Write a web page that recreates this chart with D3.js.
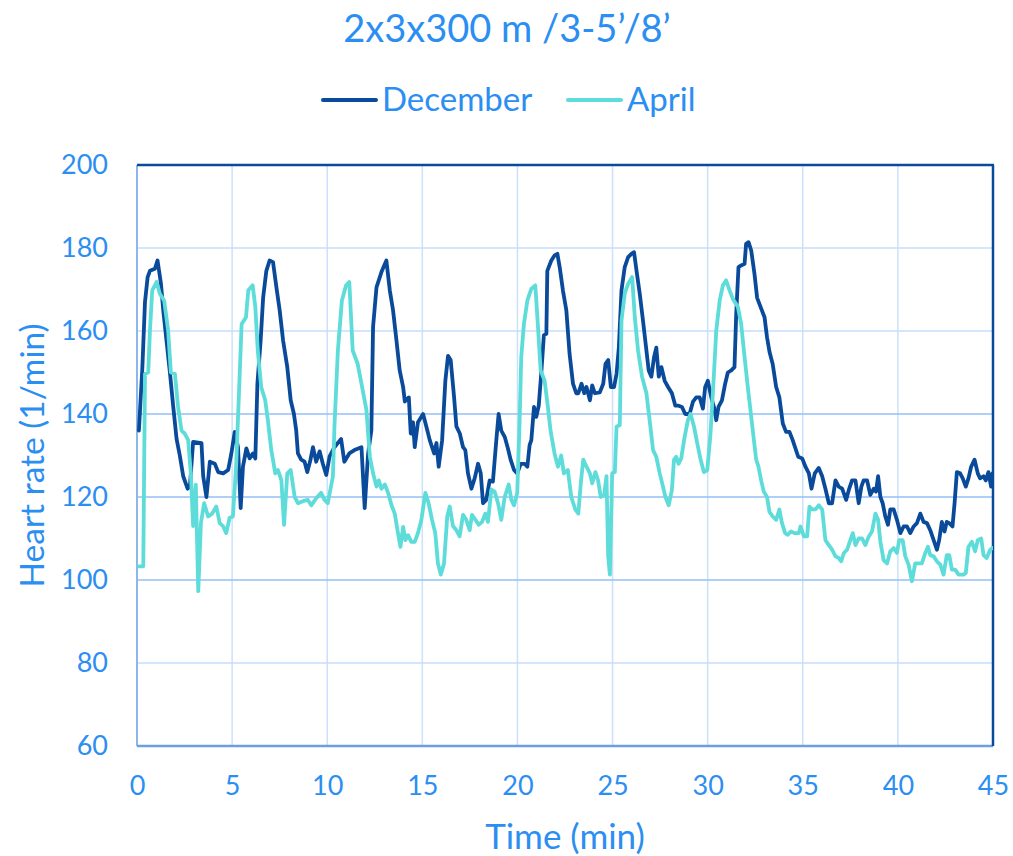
<!DOCTYPE html>
<html>
<head>
<meta charset="utf-8">
<script src="https://cdn.jsdelivr.net/npm/d3@7"></script>
<style>
  body { margin: 0; background: #fff; }
  text { font-family: Lato, "Open Sans", sans-serif; fill: #2b8ef2; }
</style>
</head>
<body>
<script>
// heart rate during 2x3x300 m as [minute, bpm]
const december = [
  [0.1,136],[0.28,151],[0.42,167],[0.56,173],[0.68,174.5],[0.94,175],[1.08,177],[1.26,171.4],[1.38,165],[1.55,157.7],
  [1.73,150],[1.9,142],[2.08,134],[2.25,130],[2.43,125],[2.66,122],[2.78,122.5],[2.95,133.3],[3.39,133],[3.48,125],
  [3.65,120],[3.83,128.5],[4.09,128],[4.27,126],[4.53,125.7],[4.79,126.5],[4.96,130.5],[5.14,135.7],[5.31,132],[5.45,117.3],
  [5.57,127.3],[5.75,131.7],[5.92,129.3],[6.1,130.5],[6.22,129.3],[6.33,147.3],[6.5,157.7],[6.63,168],[6.8,174.5],[6.97,177],
  [7.15,176.6],[7.33,170.5],[7.5,165],[7.68,157.7],[7.9,151.3],[8.08,143.3],[8.25,140],[8.37,136],[8.46,130.5],[8.63,129],
  [8.81,128.5],[8.95,126],[9.12,129],[9.25,132],[9.42,128.5],[9.6,131],[9.77,128],[9.95,125.3],[10.12,129.7],[10.38,132],
  [10.73,134],[10.9,128.5],[11.16,130.5],[11.43,131.3],[11.8,132],[11.97,117.3],[12.15,130.5],[12.32,136],[12.41,161],[12.59,170.5],
  [12.85,174.2],[13.11,177],[13.29,169.8],[13.46,165],[13.64,157.7],[13.81,150.5],[13.99,146.5],[14.08,143],[14.29,144],[14.39,135.3],
  [14.51,138],[14.6,132],[14.77,138],[15.04,140],[15.21,137],[15.39,133.7],[15.62,130.5],[15.74,133],[15.86,127.3],[16.04,133.7],
  [16.21,148],[16.35,154],[16.49,153],[16.67,144],[16.79,137],[16.97,135.3],[17.14,132],[17.26,131.3],[17.4,125.7],[17.58,122],
  [17.75,124.5],[17.93,128],[18.07,125.7],[18.19,118.5],[18.36,119.3],[18.54,124],[18.71,123.7],[18.89,133.7],[19.01,140],[19.15,136],
  [19.33,134.5],[19.5,131.7],[19.64,129],[19.82,126.5],[19.99,125.7],[20.17,128],[20.38,128],[20.52,127.3],[20.64,132.5],[20.73,133.7],
  [20.87,141.7],[20.99,139.3],[21.12,142],[21.25,149.7],[21.39,159],[21.52,159.3],[21.57,174.5],[21.78,177],[21.95,178.2],[22.1,178.6],
  [22.22,175.4],[22.39,169.8],[22.57,165],[22.74,154.5],[22.92,147.3],[23.09,145],[23.2,145],[23.37,147.3],[23.51,145],[23.63,146.5],
  [23.81,143.3],[23.93,146.9],[24.07,145],[24.33,145.2],[24.51,147.3],[24.63,152.1],[24.77,153],[24.91,146.5],[25.08,146.5],[25.21,149.7],
  [25.33,156],[25.47,169.8],[25.64,175.4],[25.82,177.8],[25.99,178.6],[26.13,179],[26.26,174.5],[26.43,169],[26.6,162.5],[26.78,155.3],
  [26.9,150.5],[27.04,149],[27.18,153.7],[27.3,156],[27.43,149],[27.57,151.3],[27.74,148],[27.92,146.5],[28.12,145],[28.3,142],
  [28.47,142],[28.65,141.7],[28.82,140],[29.05,140],[29.23,143],[29.4,144],[29.58,144],[29.75,141.3],[29.87,146.5],[30.01,148],
  [30.19,144],[30.33,141.7],[30.45,138.5],[30.57,141.7],[30.75,143.3],[30.92,147.3],[31.06,150],[31.24,150.5],[31.41,151.3],[31.5,164],
  [31.62,175.4],[31.76,175.8],[31.94,176.2],[32.02,181],[32.15,181.4],[32.29,179.4],[32.46,173.8],[32.6,168],[32.78,165.8],[32.99,163.3],
  [33.12,158.5],[33.25,155],[33.42,152],[33.6,146.5],[33.77,144],[33.95,137.7],[34.12,135.7],[34.3,135.7],[34.47,133.7],[34.76,129.7],
  [34.97,129.3],[35.14,127.3],[35.32,125.7],[35.46,122],[35.63,125.7],[35.84,127],[36.02,125],[36.19,122],[36.37,118.5],[36.54,118.5],
  [36.72,124],[36.89,122.5],[37.07,122],[37.28,119.3],[37.42,121.7],[37.59,124],[37.77,124],[37.94,118.5],[38.08,122.5],[38.2,124],
  [38.38,124],[38.55,120.5],[38.73,122],[38.85,121.3],[38.96,125],[39.08,120],[39.2,118.5],[39.34,115.3],[39.48,113.3],[39.6,117],
  [39.78,117],[39.95,114.5],[40.13,111.3],[40.3,112.9],[40.48,112.9],[40.65,111.3],[40.83,112.9],[41.0,113.7],[41.18,116],[41.35,114],
  [41.53,113.7],[41.7,112],[41.88,109.6],[42.05,107.3],[42.17,109.6],[42.31,114],[42.45,111.7],[42.57,114],[42.7,113.7],[42.87,112.9],
  [42.98,118.5],[43.1,126],[43.27,125.7],[43.41,124.5],[43.57,122.5],[43.71,124.5],[43.85,127.3],[44.03,129],[44.2,125.7],[44.32,124.5],
  [44.5,125],[44.62,124],[44.76,126],[44.9,122.5],[44.97,125.7]
];

const april = [
  [0.1,103.3],[0.33,103.3],[0.42,149.7],[0.59,150],[0.68,160],[0.8,169.8],[1.03,171.8],[1.2,169],[1.43,167.3],[1.64,160],
  [1.78,150],[1.99,149.7],[2.16,141.7],[2.34,136],[2.51,135.3],[2.69,133.7],[2.83,125.7],[2.95,113],[3.09,123],[3.22,97.3],
  [3.36,113.7],[3.53,118.5],[3.74,115.3],[3.95,116],[4.17,117.7],[4.35,113.7],[4.52,113],[4.69,111.3],[4.87,115],[5.04,115.3],
  [5.21,127.3],[5.38,147.3],[5.5,161.7],[5.73,163.3],[5.85,169.8],[6.08,171],[6.22,165.8],[6.35,155.3],[6.53,146.5],[6.74,143.3],
  [6.88,138.5],[7.06,131.3],[7.27,125.7],[7.41,126.5],[7.59,124],[7.73,113.3],[7.9,125.7],[8.08,126.5],[8.29,120],[8.46,118.5],
  [8.72,119],[8.98,119.3],[9.16,118],[9.42,119.7],[9.68,121],[9.86,119.3],[10.03,118.5],[10.3,125],[10.38,137],[10.56,155.3],
  [10.77,167.3],[10.99,171],[11.16,171.8],[11.34,155.3],[11.6,152.1],[11.8,147.3],[12.06,141],[12.24,129.7],[12.41,125.7],[12.59,122.5],
  [12.71,124],[12.85,122],[13.03,123],[13.2,121],[13.38,118],[13.55,116],[13.72,111.3],[13.85,108],[13.99,112.8],[14.11,109.6],
  [14.25,110.8],[14.42,109.2],[14.6,109.2],[14.77,111.3],[14.95,114.5],[15.16,121],[15.33,118.5],[15.51,114.5],[15.68,111.3],[15.82,104],
  [15.97,101.3],[16.14,104],[16.31,115.3],[16.44,117.7],[16.61,113],[16.79,112],[16.96,110.5],[17.14,115.7],[17.31,114.5],[17.49,112],
  [17.61,115.7],[17.79,114.5],[17.96,113.3],[18.14,114],[18.31,116],[18.45,114],[18.63,121.8],[18.8,121.3],[18.98,118.5],[19.15,114.5],
  [19.33,120],[19.54,123],[19.68,119.3],[19.82,118],[19.99,121],[20.11,137.7],[20.2,153.7],[20.34,161.7],[20.52,167.3],[20.73,170.2],
  [20.94,171],[21.08,161],[21.22,150.5],[21.43,148],[21.6,141.7],[21.74,136],[21.95,130.5],[22.13,127.3],[22.3,130],[22.44,125.7],
  [22.65,126.5],[22.83,120],[23.04,117],[23.2,116],[23.33,123.3],[23.46,129],[23.63,127.3],[23.81,125.7],[23.93,123.3],[24.1,126],
  [24.24,124],[24.38,120],[24.56,120.5],[24.68,125],[24.77,105.7],[24.86,101.3],[24.98,125.7],[25.12,126],[25.21,137],[25.38,137.3],
  [25.47,162.5],[25.64,169],[25.82,171.4],[26.03,173],[26.17,163.3],[26.34,155.3],[26.55,149],[26.78,145],[26.95,138.5],[27.13,131.3],
  [27.3,129.7],[27.48,125.7],[27.65,122.5],[27.78,120],[27.95,118],[28.12,121.7],[28.23,129],[28.35,129.7],[28.47,128],[28.61,129.3],
  [28.79,134.5],[28.96,138.5],[29.1,140],[29.28,137],[29.45,133],[29.63,129],[29.8,126],[29.98,126.5],[30.15,135.3],[30.33,149.7],
  [30.45,160],[30.63,167.3],[30.8,171],[30.97,172.2],[31.15,169.8],[31.32,167.8],[31.59,165.8],[31.76,161.7],[31.94,153.7],[32.11,146.5],
  [32.29,139.3],[32.43,133.7],[32.55,129],[32.67,127.3],[32.81,124],[32.95,121.3],[33.12,120],[33.25,116.4],[33.42,115.3],[33.6,114.5],
  [33.77,117],[33.89,114],[34.07,111.3],[34.21,110.9],[34.38,111.7],[34.56,111.3],[34.79,111.3],[34.88,112.9],[35.06,110.5],[35.23,110.5],
  [35.35,117.7],[35.49,117],[35.67,117],[35.84,118],[36.02,117],[36.19,109.6],[36.37,108.4],[36.54,107.3],[36.72,105.7],[36.89,105.3],
  [37.02,104.5],[37.16,106.5],[37.33,107.3],[37.5,109.6],[37.63,111.3],[37.77,108.4],[37.94,110],[38.12,110],[38.29,108.4],[38.47,110.5],
  [38.64,111.7],[38.82,116],[38.96,114.5],[39.08,109.2],[39.25,104.8],[39.43,104],[39.6,106.9],[39.78,107.7],[39.95,106.5],[40.07,109.6],
  [40.25,109.6],[40.39,105.7],[40.56,103.7],[40.74,99.7],[40.91,104],[41.09,104],[41.26,104],[41.44,106.5],[41.58,108],[41.7,106],
  [41.88,105.7],[42.05,104.5],[42.23,103.7],[42.4,101.3],[42.57,106],[42.7,106],[42.84,102.5],[43.01,102.5],[43.19,101.3],[43.45,101.3],
  [43.57,101.7],[43.71,108],[43.89,109.2],[44.06,106.9],[44.2,109.6],[44.38,110],[44.5,106],[44.67,105.3],[44.85,107.3],[44.97,107.7]
];

const xTicks = [0, 5, 10, 15, 20, 25, 30, 35, 40, 45];
const yTicks = [60, 80, 100, 120, 140, 160, 180, 200];
const seriesNames = ["December", "April"];
const seriesColors = ["#0a4a9b", "#5edcd9"];

const W = 1013, H = 856;
const margin = {top: 165, right: 20, bottom: 110, left: 137};
const iw = W - margin.left - margin.right;
const ih = H - margin.top - margin.bottom;

const svg = d3.select("body").append("svg").attr("width", W).attr("height", H);

const x = d3.scaleLinear().domain([0, 45]).range([0, iw]);
const y = d3.scaleLinear().domain([60, 200]).range([ih, 0]);

const g = svg.append("g").attr("transform", `translate(${margin.left},${margin.top})`);

// grid
g.selectAll(".vgrid").data(xTicks.slice(1, -1)).join("line")
  .attr("x1", d => x(d)).attr("x2", d => x(d)).attr("y1", 0).attr("y2", ih)
  .attr("stroke", "#cbe1fb").attr("stroke-width", 1.5);
g.selectAll(".hgrid").data(yTicks.slice(1, -1)).join("line")
  .attr("x1", 0).attr("x2", iw).attr("y1", d => y(d)).attr("y2", d => y(d))
  .attr("stroke", d => (d >= 100 && d <= 140) ? "#93c1f6" : "#c6defa").attr("stroke-width", 1.5);

// axes (labels only)
const xAxis = g.append("g").attr("transform", `translate(0,${ih})`)
  .call(d3.axisBottom(x).tickValues(xTicks).tickSize(0).tickPadding(30));
const yAxis = g.append("g")
  .call(d3.axisLeft(y).tickValues(yTicks).tickSize(0).tickPadding(29));
[xAxis, yAxis].forEach(a => {
  a.select(".domain").remove();
  a.selectAll("text").attr("font-size", 27).style("font-family", "Lato").attr("fill", "#2b8ef2");
});

// frame
g.append("line").attr("x1", 0).attr("x2", 0).attr("y1", 0).attr("y2", ih).attr("stroke", "#8db7ec").attr("stroke-width", 2);
g.append("line").attr("x1", 0).attr("x2", iw).attr("y1", ih).attr("y2", ih).attr("stroke", "#6c9fdf").attr("stroke-width", 2.5);
g.append("line").attr("x1", 0).attr("x2", iw + 1).attr("y1", 0).attr("y2", 0).attr("stroke", "#0a4a9b").attr("stroke-width", 2.5);
g.append("line").attr("x1", iw).attr("x2", iw).attr("y1", 0).attr("y2", ih).attr("stroke", "#0a4a9b").attr("stroke-width", 2.5);

// series
g.append("clipPath").attr("id", "clip").append("rect").attr("width", iw).attr("height", ih);
const line = d3.line().x(d => x(d[0])).y(d => y(d[1]));
[december, april].forEach((s, i) => {
  g.append("path").datum(s).attr("d", line)
    .attr("clip-path", "url(#clip)")
    .attr("fill", "none").attr("stroke", seriesColors[i]).attr("stroke-width", 3.8)
    .attr("stroke-linejoin", "round").attr("stroke-linecap", "round");
});

// title
svg.append("text").attr("x", 507).attr("y", 42).attr("text-anchor", "middle")
  .attr("font-size", 38).text("2x3x300 m /3-5’/8’");

// legend
const legendX = [323, 568];
seriesNames.forEach((n, i) => {
  svg.append("line").attr("x1", legendX[i]).attr("x2", legendX[i] + 53).attr("y1", 100).attr("y2", 100)
    .attr("stroke", seriesColors[i]).attr("stroke-width", 4).attr("stroke-linecap", "round");
  svg.append("text").attr("x", legendX[i] + 59).attr("y", 111).attr("font-size", 33).text(n);
});

// axis titles
svg.append("text").attr("x", margin.left + iw / 2).attr("y", 849).attr("text-anchor", "middle")
  .attr("font-size", 35).text("Time (min)");
svg.append("text").attr("transform", `translate(44,${margin.top + ih / 2}) rotate(-90)`)
  .attr("text-anchor", "middle").attr("font-size", 33.5).text("Heart rate (1/min)");
</script>
</body>
</html>
